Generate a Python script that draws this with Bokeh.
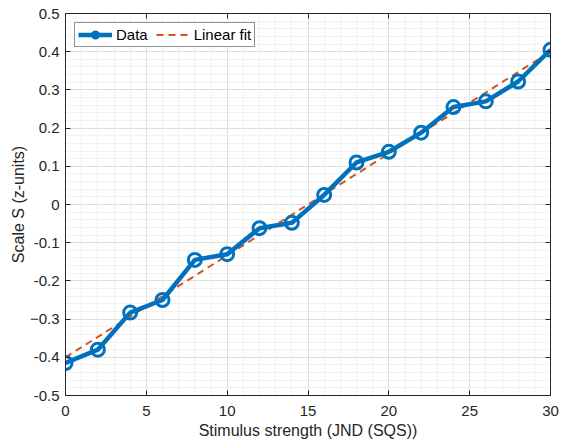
from bokeh.plotting import figure
from bokeh.models import LinearAxis, SingleIntervalTicker, Range1d, Legend, LegendItem, CustomJSTickFormatter
from bokeh.embed import file_html
from bokeh.resources import INLINE

# Data
stimulus = [0, 2, 4, 6, 8, 10, 12, 14, 16, 18, 20, 22, 24, 26, 28, 30]
scale_s = [-0.415, -0.38, -0.283, -0.25, -0.145, -0.13, -0.062, -0.048,
           0.025, 0.11, 0.138, 0.188, 0.255, 0.27, 0.322, 0.405]
fit_x = [0, 30]
fit_y = [-0.40, 0.40]

x_ticks = [0, 5, 10, 15, 20, 25, 30]
y_ticks = [-0.5, -0.4, -0.3, -0.2, -0.1, 0, 0.1, 0.2, 0.3, 0.4, 0.5]

FONT = "Liberation Sans"
DARK = "#262626"
BLUE = "#0072BD"
ORANGE = "#D95319"

p = figure(width=562, height=443, output_backend="svg", toolbar_location=None,
           x_range=Range1d(0, 30), y_range=Range1d(-0.5, 0.5),
           min_border_left=65, min_border_right=12, min_border_top=13, min_border_bottom=48)
p.background_fill_color = "white"
p.border_fill_color = "white"
p.outline_line_color = DARK
p.outline_line_width = 1

xt = SingleIntervalTicker(interval=5, num_minor_ticks=5)
yt = SingleIntervalTicker(interval=0.1, num_minor_ticks=5)
p.xaxis.ticker = xt
p.yaxis.ticker = yt
p.xgrid.ticker = xt
p.ygrid.ticker = yt

for g in (p.xgrid, p.ygrid):
    g.grid_line_color = "#dedede"
    g.grid_line_width = 1
    g.minor_grid_line_color = "#e4e4e4"
    g.minor_grid_line_dash = "1 1"
    g.minor_grid_line_width = 1

def style_axis(ax):
    ax.axis_line_color = DARK
    ax.major_tick_line_color = DARK
    ax.major_tick_in = 5
    ax.major_tick_out = 0
    ax.minor_tick_line_color = None
    ax.major_label_text_font = FONT
    ax.major_label_text_color = DARK
    ax.major_label_text_font_size = "15px"
    ax.axis_label_text_font = FONT
    ax.axis_label_text_font_style = "normal"
    ax.axis_label_text_color = DARK
    ax.axis_label_text_font_size = "16px"

p.xaxis.axis_label = "Stimulus strength (JND (SQS))"
p.yaxis.axis_label = "Scale S (z-units)"
p.xaxis.major_label_overrides = {v: str(v) for v in x_ticks}
p.yaxis.major_label_overrides = {v: ("0" if abs(v) < 1e-9 else f"{v:g}") for v in y_ticks}
p.xaxis.major_label_standoff = 6
p.yaxis.major_label_standoff = 2
p.xaxis.axis_label_standoff = 3
p.yaxis.axis_label_standoff = 0
style_axis(p.xaxis[0])
style_axis(p.yaxis[0])

blank = CustomJSTickFormatter(code="return '';")
top = LinearAxis(ticker=xt, formatter=blank, major_label_standoff=0)
right = LinearAxis(ticker=yt, formatter=blank, major_label_standoff=0)
style_axis(top)
style_axis(right)
p.add_layout(top, "above")
p.add_layout(right, "right")

fit = p.line(fit_x, fit_y, line_color=ORANGE, line_width=2, line_dash="7 5")
data_line = p.line(stimulus, scale_s, line_color=BLUE, line_width=4.5)
data_pts = p.scatter(stimulus, scale_s, marker="circle", size=13, fill_color=None,
                     line_color=BLUE, line_width=3)

legend = Legend(items=[LegendItem(label="Data", renderers=[data_line, data_pts]),
                       LegendItem(label="Linear fit", renderers=[fit])],
                orientation="horizontal", location="top_left")
legend.label_text_font = FONT
legend.label_text_font_size = "15px"
legend.label_text_color = "black"
legend.border_line_color = DARK
legend.border_line_width = 1
legend.background_fill_color = "white"
legend.background_fill_alpha = 1
legend.glyph_width = 34
legend.glyph_height = 15
legend.label_height = 15
legend.label_standoff = 4
legend.spacing = 8
legend.padding = 3
legend.margin = 9
p.add_layout(legend, "center")

open("out.html", "w").write(file_html(p, INLINE))
